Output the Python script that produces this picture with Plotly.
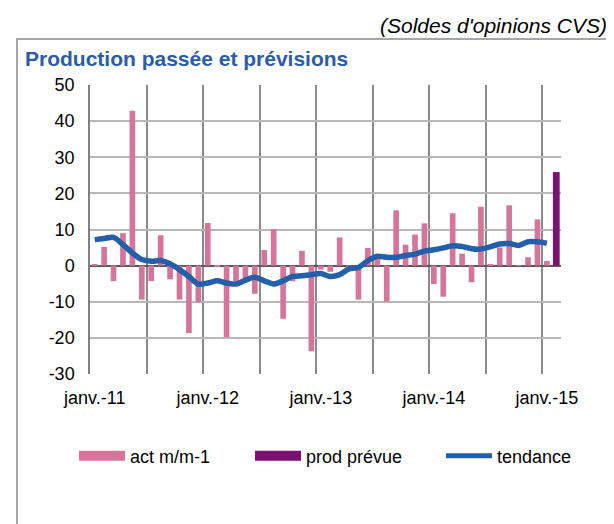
import plotly.graph_objects as go

# ---------------- data ----------------
months = [f"{2011 + k // 12}-{k % 12 + 1:02d}" for k in range(50)]  # janv.-11 .. févr.-15

act_m_m1 = [0.3, 5.2, -4.3, 9.0, 42.9, -9.4, -4.3, 8.4, -3.8, -9.4,
            -18.7, -10.2, 11.8, -0.3, -19.8, -4.3, -3.6, -7.8, 4.3, 10.1,
            -14.7, -4.3, 4.1, -23.7, -1.1, -1.7, 7.8, -0.8, -9.4, 4.9,
            2.0, -9.9, 15.3, 5.8, 8.6, 11.7, -5.1, -8.6, 14.5, 3.3,
            -4.6, 16.3, 0.4, 5.0, 16.7, 0.1, 2.3, 12.8, 1.3]

prod_prevue = [25.9]          # last month (févr.-15)

tendance = [7.2, 7.5, 7.8, 5.8, 3.5, 1.7, 1.2, 1.4, 0.5, -1.1,
            -3.0, -5.1, -4.8, -4.2, -4.8, -5.1, -4.0, -3.2, -4.2, -5.1,
            -4.2, -3.0, -2.8, -2.5, -2.2, -3.0, -2.5, -0.9, -0.5, 1.4,
            2.6, 2.3, 2.3, 2.8, 3.2, 4.0, 4.4, 4.9, 5.5, 5.3,
            4.7, 4.6, 5.2, 6.0, 6.1, 5.6, 6.6, 6.6, 6.2]

tick_months = ["2011-01", "2012-01", "2013-01", "2014-01", "2015-01"]
tick_labels = ["janv.-11", "janv.-12", "janv.-13", "janv.-14", "janv.-15"]

y_ticks = [50, 40, 30, 20, 10, 0, -10, -20, -30]

# ---------------- styling ----------------
PINK = "#d6759b"
PURPLE = "#7d1172"
BLUE = "#245fab"
TITLE_BLUE = "#2a5caa"
FONT = "Liberation Sans, Arial, sans-serif"

W, H = 614, 524
L, R, T, B = 82, 61, 77, 158
PW, PH = W - L - R, H - T - B


def px_x(p):
    return (p - L) / PW


def px_y(p):
    return (H - B - p) / PH


pos = list(range(len(months)))
act_x = pos[:len(act_m_m1)]
prev_x = pos[len(months) - len(prod_prevue):]
tend_x = pos[:len(tendance)]

fig = go.Figure()
fig.add_trace(go.Bar(x=act_x, y=act_m_m1, width=0.6, marker=dict(color=PINK, line=dict(width=0)),
                     showlegend=False, name="act m/m-1"))
fig.add_trace(go.Bar(x=prev_x, y=prod_prevue, width=0.72, marker=dict(color=PURPLE, line=dict(width=0)),
                     showlegend=False, name="prod prévue"))
fig.add_trace(go.Scatter(x=tend_x, y=tendance, mode="lines",
                         line=dict(color=BLUE, width=5.5, shape="spline", smoothing=0.8),
                         showlegend=False, name="tendance"))

# legend entries (wide rectangles like the original)
fig.add_trace(go.Scatter(x=[None], y=[None], mode="lines", name="act m/m-1",
                         line=dict(color=PINK, width=10), legend="legend"))
fig.add_trace(go.Scatter(x=[None], y=[None], mode="lines", name="prod prévue",
                         line=dict(color=PURPLE, width=10), legend="legend2"))
fig.add_trace(go.Scatter(x=[None], y=[None], mode="lines", name="tendance",
                         line=dict(color=BLUE, width=5), legend="legend3"))

grid_pos = [k - 0.5 for k in range(0, len(months) + 1, 6)]
tickvals = [months.index(m) for m in tick_months]

leg_common = dict(orientation="h", xanchor="left", yanchor="middle", itemwidth=46,
                  font=dict(family=FONT, size=18, color="#000000"),
                  bgcolor="rgba(0,0,0,0)", borderwidth=0)

fig.update_layout(
    width=W, height=H,
    margin=dict(l=L, r=R, t=T, b=B, autoexpand=False),
    paper_bgcolor="white", plot_bgcolor="white",
    font=dict(family=FONT, size=18, color="#000000"),
    barmode="overlay",
    title=dict(text="<b>Production passée et prévisions</b>",
               font=dict(family=FONT, size=21, color=TITLE_BLUE),
               xref="container", x=17 / W, xanchor="left",
               yref="container", y=1 - 51 / H, yanchor="middle"),
    xaxis=dict(range=[-0.5, len(months) - 0.5], tickmode="array", tickvals=tickvals,
               ticktext=tick_labels, showgrid=False, zeroline=False, showline=False,
               ticks="outside", ticklen=7, tickcolor="rgba(0,0,0,0)",
               tickfont=dict(family=FONT, size=18, color="#000000"),
               minor=dict(tickmode="array", tickvals=grid_pos, showgrid=True,
                          gridcolor="#8a8a8a", gridwidth=1.5, ticks="")),
    yaxis=dict(range=[-30, 50], tickmode="array", tickvals=y_ticks,
               ticktext=[str(v) for v in y_ticks],
               showgrid=True, gridcolor="#b8b8b8",
               gridwidth=1.5, zeroline=True, zerolinecolor="#595959", zerolinewidth=1.5,
               showline=True, linecolor="#808080", linewidth=1.5,
               ticks="outside", ticklen=10, tickcolor="rgba(0,0,0,0)",
               tickfont=dict(family=FONT, size=18, color="#000000")),
    legend=dict(x=px_x(66), y=px_y(448), **leg_common),
    legend2=dict(x=px_x(242), y=px_y(448), **leg_common),
    legend3=dict(x=px_x(433), y=px_y(448), **leg_common),
    annotations=[dict(text="<i>(Soldes d'opinions CVS)</i>", xref="paper", yref="paper",
                      x=px_x(601), y=px_y(18), xanchor="right", yanchor="middle",
                      showarrow=False, font=dict(family=FONT, size=21, color="#000000"))],
    shapes=[
        dict(type="line", xref="paper", yref="paper", x0=px_x(8), x1=px_x(W + 2),
             y0=px_y(31), y1=px_y(31), line=dict(color="#a6a6a6", width=2)),
        dict(type="line", xref="paper", yref="paper", x0=px_x(9), x1=px_x(9),
             y0=px_y(31), y1=px_y(H + 2), line=dict(color="#a6a6a6", width=2)),
    ],
)

fig.write_html("out.html")
